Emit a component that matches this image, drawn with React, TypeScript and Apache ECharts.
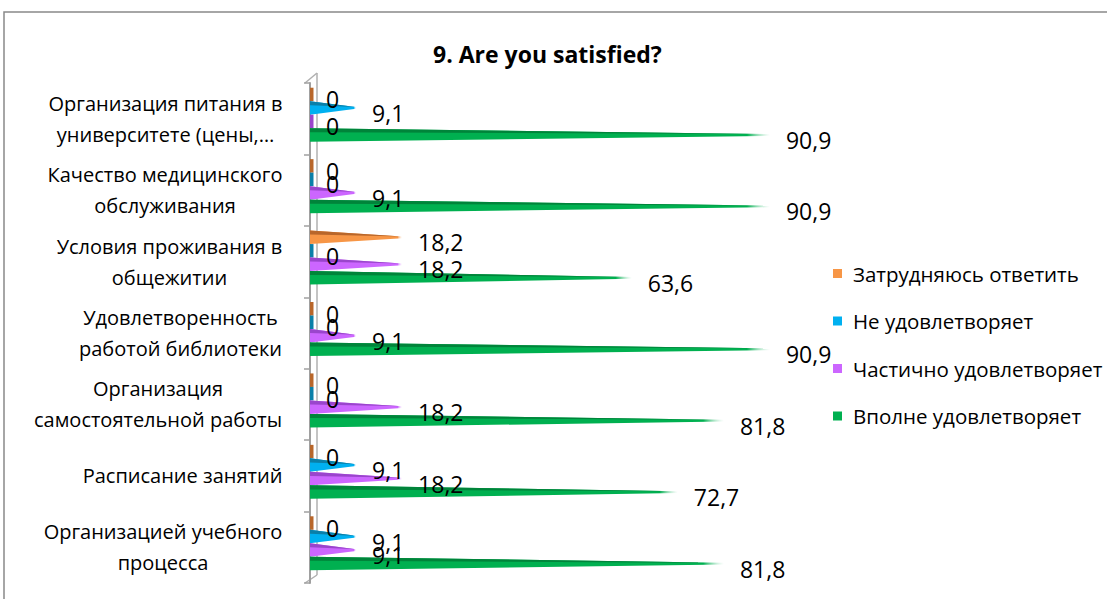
import React, { useEffect, useRef } from 'react';
import * as echarts from 'echarts';

const categories = [
  'Организация питания в\nуниверситете (цены,…',
  'Качество медицинского\nобслуживания',
  'Условия проживания в\nобщежитии',
  'Удовлетворенность\nработой библиотеки',
  'Организация\nсамостоятельной работы',
  'Расписание занятий',
  'Организацией учебного\nпроцесса',
];
const seriesNames = [
  'Затрудняюсь ответить',
  'Не удовлетворяет',
  'Частично удовлетворяет',
  'Вполне удовлетворяет',
];
const hardToSay = [0, 0, 18.2, 0, 0, 0, 0];
const notSatisfied = [9.1, 0, 0, 0, 0, 9.1, 9.1];
const partlySatisfied = [0, 9.1, 18.2, 9.1, 18.2, 18.2, 9.1];
const fullySatisfied = [90.9, 90.9, 63.6, 90.9, 81.8, 72.7, 81.8];
const titleText = '9. Are you satisfied?';

const colors = ['#F79646', '#00B0F0', '#CC66FF', '#00B050'];
const darkColors = ['#B8662A', '#0A7FA8', '#9A45CC', '#00843A'];
const FONT = '"Open Sans", "Noto Sans", sans-serif';
const BAR_H = 13.5;
const SHIFT = -4;

const allSeries = [hardToSay, notSatisfied, partlySatisfied, fullySatisfied];
const fmt = (v: number) => String(v).replace('.', ',');

function grad(c: string) {
  return {
    type: 'linear', x: 0, y: 0, x2: 1, y2: 0,
    colorStops: [
      { offset: 0, color: c },
      { offset: 0.95, color: c },
      { offset: 1, color: 'rgba(255,255,255,0.4)' },
    ],
  };
}

function barRender(s: number) {
  return (params: any, api: any) => {
    const v = api.value(0);
    const c = api.value(1);
    const p0 = api.coord([0, c]);
    const p1 = api.coord([v, c]);
    const yc = p0[1] + SHIFT + (s - 1.5) * BAR_H;
    const top = yc - BAR_H / 2;
    const bot = yc + BAR_H / 2;
    const x0 = p0[0];
    const x1 = p1[0];
    const children: any[] = [];
    if (v > 0) {
      children.push({
        type: 'polygon',
        shape: { points: [[x0, top], [x1, yc - 0.9], [x1, yc + 0.9], [x0, bot]] },
        style: { fill: grad(colors[s]) },
      });
      children.push({
        type: 'polygon',
        shape: { points: [[x0, top], [x1, yc - 0.9], [x0, top + BAR_H * 0.3]] },
        style: { fill: grad(darkColors[s]) },
      });
    } else {
      children.push({ type: 'rect', shape: { x: x0, y: top, width: 3.5, height: BAR_H }, style: { fill: darkColors[s] } });
    }
    return { type: 'group', children };
  };
}

function labelRender(params: any, api: any) {
  const v = api.value(0);
  const c = api.value(1);
  const s = api.value(2);
  const p0 = api.coord([0, c]);
  const p1 = api.coord([v, c]);
  const yc = p0[1] + SHIFT + (s - 1.5) * BAR_H;
  return {
    type: 'text',
    x: p1[0] + 16,
    y: yc + 5,
    style: { text: fmt(v), fill: '#000', fontSize: 23, fontFamily: FONT, align: 'left', verticalAlign: 'middle' },
  };
}

export default function App() {
  const ref = useRef<HTMLDivElement>(null);
  useEffect(() => {
    document.body.style.margin = '0';
    const chart = echarts.init(ref.current!, null, { renderer: 'svg' });

    const catFontSize = 20;
    const canvas = document.createElement('canvas');
    const ctx = canvas.getContext('2d')!;
    ctx.font = `${catFontSize}px ${FONT}`;
    const rich: any = {};
    categories.forEach((cat, i) => {
      const w = Math.max(...cat.split('\n').map((l) => ctx.measureText(l).width));
      rich['c' + i] = { width: Math.ceil(w) + 1, align: 'center', fontSize: catFontSize, fontFamily: FONT, lineHeight: 31, color: '#000' };
    });

    const labelData: any[] = [];
    allSeries.forEach((arr, s) => arr.forEach((v, c) => labelData.push([v, c, s])));

    const option: any = {
      animation: false,
      title: {
        text: titleText,
        left: 428,
        top: 37,
        padding: 5,
        textStyle: { fontSize: 23, fontWeight: 'bold', fontFamily: FONT, color: '#000' },
      },
      legend: {
        orient: 'vertical',
        left: 833,
        top: 263,
        padding: 0,
        itemWidth: 9,
        itemHeight: 9,
        itemGap: 26.5,
        selectedMode: false,
        data: seriesNames.map((n) => ({ name: n, icon: 'rect' })),
        textStyle: { fontSize: 20.5, fontFamily: FONT, color: '#000', lineHeight: 20, padding: [0, 0, 0, 6] },
      },
      grid: { left: 310, top: 83, width: 506, height: 500 },
      xAxis: {
        type: 'value', min: 0, max: 100,
        show: false,
      },
      yAxis: {
        type: 'category',
        data: categories,
        inverse: true,
        offset: 5,
        axisLine: { show: true, lineStyle: { color: '#a0a0a0', width: 2 } },
        axisTick: { show: true, length: 6, lineStyle: { color: '#a0a0a0', width: 1.5 } },
        axisLabel: {
          margin: 22,
          formatter: (val: string, idx: number) => val.split('\n').map((l) => `{c${idx}|${l}}`).join('\n'),
          rich,
        },
      },
      graphic: [
        { type: 'rect', shape: { x: 4, y: 12, width: 1200, height: 700 }, style: { fill: 'none', stroke: '#898989', lineWidth: 1.5 }, z: -10 },
        { type: 'line', shape: { x1: 317, y1: 73, x2: 317, y2: 575 }, style: { stroke: '#b0b0b0', lineWidth: 1.5 }, z: -5 },
        { type: 'line', shape: { x1: 305, y1: 83, x2: 317, y2: 73 }, style: { stroke: '#b0b0b0', lineWidth: 1.5 }, z: -5 },
        { type: 'line', shape: { x1: 305, y1: 583, x2: 317, y2: 575 }, style: { stroke: '#b0b0b0', lineWidth: 1.5 }, z: -5 },
      ],
      series: [
        ...allSeries.map((arr, s) => ({
          type: 'custom',
          name: seriesNames[s],
          itemStyle: { color: colors[s] },
          renderItem: barRender(s),
          encode: { x: 0, y: 1 },
          data: arr.map((v, c) => [v, c]),
          z: 2,
        })),
        {
          type: 'custom',
          name: 'labels',
          renderItem: labelRender,
          encode: { x: 0, y: 1 },
          dimensions: ['v', 'c', 's'],
          data: labelData,
          z: 5,
          silent: true,
        },
      ],
    };
    chart.setOption(option);
    return () => chart.dispose();
  }, []);
  return <div ref={ref} style={{ width: 1107, height: 599 }} />;
}
